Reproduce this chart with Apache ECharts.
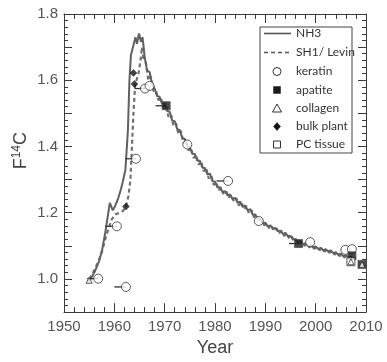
<!DOCTYPE html>
<html>
<head>
<meta charset="utf-8">
<script src="https://cdn.jsdelivr.net/npm/echarts@6/dist/echarts.min.js"></script>
<style>
html,body{margin:0;padding:0;background:#fff;}
#chart{width:387px;height:362px;}
</style>
</head>
<body>
<div id="chart"></div>
<script>
// ---- data ----
var xTicks = [1950, 1960, 1970, 1980, 1990, 2000, 2010];
var yTickLabels = ['1.0', '1.2', '1.4', '1.6', '1.8'];
var legendNames = ['NH3', 'SH1/ Levin', 'keratin', 'apatite', 'collagen', 'bulk plant', 'PC tissue'];

var nh3 = [
  [1954.8,0.990],[1955.5,1.005],[1956.2,1.025],[1957.0,1.055],[1957.6,1.090],[1958.2,1.140],
  [1958.7,1.190],[1959.1,1.230],[1959.7,1.207],[1960.2,1.222],[1960.8,1.245],[1961.3,1.270],
  [1961.7,1.295],[1962.2,1.330],[1962.7,1.450],[1963.0,1.600],[1963.3,1.676],[1963.8,1.706],
  [1964.2,1.730],[1964.5,1.710],[1964.9,1.741],[1965.3,1.716],[1965.6,1.730],[1965.9,1.690],
  [1966.0,1.672],[1966.5,1.630],[1967.0,1.625],[1967.5,1.588],[1968.0,1.575],[1968.5,1.552],
  [1969.0,1.550],[1969.5,1.528],[1970.0,1.530],[1970.5,1.507],[1971.0,1.505],[1971.5,1.478],
  [1972.0,1.476],[1972.5,1.452],[1973.0,1.450],[1973.5,1.425],[1974.0,1.423],[1974.5,1.400],
  [1975.0,1.398],[1975.5,1.378],[1976.0,1.377],[1976.5,1.357],[1977.0,1.357],[1977.5,1.336],
  [1978.0,1.335],[1978.5,1.315],[1979.0,1.318],[1979.5,1.295],[1980.0,1.294],[1980.5,1.276],
  [1981.0,1.277],[1981.5,1.262],[1982.0,1.265],[1982.5,1.252],[1983.0,1.255],[1983.5,1.241],
  [1984.0,1.245],[1984.5,1.230],[1985.0,1.233],[1985.5,1.218],[1986.0,1.222],[1986.5,1.207],
  [1987.0,1.211],[1987.5,1.194],[1988.0,1.195],[1988.5,1.180],[1989.0,1.181],[1989.5,1.168],
  [1990.0,1.170],[1990.5,1.159],[1991.0,1.162],[1991.5,1.151],[1992.0,1.154],[1992.5,1.144],
  [1993.0,1.146],[1993.5,1.136],[1994.0,1.139],[1994.5,1.129],[1995.0,1.130],[1995.5,1.119],
  [1996.0,1.121],[1996.5,1.111],[1997.0,1.114],[1997.5,1.105],[1998.0,1.108],[1998.5,1.100],
  [1999.0,1.103],[1999.5,1.095],[2000.0,1.098],[2000.5,1.091],[2001.0,1.094],[2001.5,1.087],
  [2002.0,1.090],[2002.5,1.083],[2003.0,1.086],[2003.5,1.078],[2004.0,1.081],[2004.5,1.073],
  [2005.0,1.076],[2005.5,1.069],[2006.0,1.072],[2006.5,1.065],[2007.0,1.068],[2007.5,1.062],
  [2008.0,1.064]
];

var sh1Levin = [
  [1955.0,1.000],[1955.8,1.020],[1956.6,1.045],[1957.4,1.075],[1958.2,1.120],[1958.8,1.150],
  [1959.5,1.180],[1960.2,1.195],[1961.0,1.200],[1961.7,1.205],[1962.3,1.220],[1962.8,1.250],
  [1963.2,1.300],[1963.5,1.400],[1963.8,1.500],[1964.1,1.580],[1964.4,1.600],[1964.8,1.620],
  [1965.2,1.660],[1965.5,1.700],[1965.8,1.660],[1966.0,1.670],
  [1966.25,1.655],[1966.75,1.600],[1967.25,1.612],[1967.75,1.568],[1968.25,1.570],[1968.75,1.540],
  [1969.25,1.548],[1969.75,1.515],[1970.25,1.522],[1970.75,1.490],[1971.25,1.497],[1971.75,1.463],
  [1972.25,1.470],[1972.75,1.437],[1973.25,1.447],[1973.75,1.410],[1974.25,1.420],[1974.75,1.388],
  [1975.25,1.395],[1975.75,1.365],[1976.25,1.374],[1976.75,1.345],[1977.25,1.355],[1977.75,1.325],
  [1978.25,1.335],[1978.75,1.303],[1979.25,1.312],[1979.75,1.284],[1980.25,1.292],[1980.75,1.268],
  [1981.25,1.276],[1981.75,1.255],[1982.25,1.264],[1982.75,1.246],[1983.25,1.254],[1983.75,1.234],
  [1984.25,1.244],[1984.75,1.222],[1985.25,1.231],[1985.75,1.210],[1986.25,1.220],[1986.75,1.198],
  [1987.25,1.208],[1987.75,1.186],[1988.25,1.192],[1988.75,1.172],[1989.25,1.180],[1989.75,1.162],
  [1990.25,1.168],[1990.75,1.153],[1991.25,1.160],[1991.75,1.145],[1992.25,1.152],[1992.75,1.138],
  [1993.25,1.145],[1993.75,1.130],[1994.25,1.137],[1994.75,1.122],[1995.25,1.128],[1995.75,1.113],
  [1996.25,1.119],[1996.75,1.106],[1997.25,1.112],[1997.75,1.100],[1998.25,1.106],[1998.75,1.095],
  [1999.25,1.101],[1999.75,1.091],[2000.25,1.097],[2000.75,1.087],[2001.25,1.092],[2001.75,1.083],
  [2002.25,1.088],[2002.75,1.079],[2003.25,1.084],[2003.75,1.074],[2004.25,1.079],[2004.75,1.069],
  [2005.25,1.074],[2005.75,1.065],[2006.25,1.070],[2006.75,1.061],[2007.25,1.066],[2007.75,1.058]
];

var keratin = [
  [1956.8,1.001],[1960.5,1.159],[1962.3,0.976],[1964.3,1.363],[1966.1,1.575],[1967.0,1.583],
  [1974.5,1.406],[1982.6,1.296],[1988.7,1.175],[1998.9,1.111],[2005.9,1.088],[2007.2,1.090]
];
var apatite = [[1970.3,1.523],[1996.6,1.107],[2007.2,1.070],[2009.2,1.044]];
var collagen = [[1955.0,0.996],[2007.0,1.052],[2009.2,1.044]];
var bulkPlant = [[1962.3,1.219],[1963.8,1.622],[1964.0,1.589]];
var pcTissue = [[2007.0,1.052]];

// horizontal range bars: [start year, end year, value]
var rangeBars = [
  [1954.6,1956.8,1.001],[1958.2,1960.5,1.159],[1960.0,1962.3,0.976],[1962.2,1964.3,1.363],
  [1964.0,1966.1,1.575],[1968.2,1970.3,1.523],[1980.3,1982.6,1.296],[1994.7,1996.6,1.107]
];

var chart = echarts.init(document.getElementById('chart'), null, {renderer: 'canvas'});
var axisColor = '#3a3a3a';
var labelFont = 'Liberation Sans, Arial, sans-serif';
var legendFont = 'Lato, Open Sans, sans-serif';

function xAxisCfg(pos, showLabel) {
  return {
    type: 'value', position: pos, min: 1950, max: 2010, interval: 10,
    axisLine: {show: true, lineStyle: {color: axisColor, width: 1}},
    axisTick: {show: true, inside: true, length: 9, lineStyle: {color: axisColor, width: 1}},
    minorTick: {show: true, splitNumber: 5, length: 5, lineStyle: {color: axisColor, width: 1}},
    splitLine: {show: false},
    axisLabel: {show: showLabel, color: '#555', fontSize: 15, fontFamily: labelFont, margin: 7,
      formatter: function (v) { return String(Math.round(v)); }},
    name: showLabel ? 'Year' : '', nameLocation: 'middle', nameGap: 25,
    nameTextStyle: {color: '#444', fontSize: 18, fontFamily: labelFont}
  };
}
function yAxisCfg(pos, showLabel) {
  return {
    type: 'value', position: pos, min: 0.9, max: 1.8, interval: 0.1,
    axisLine: {show: true, lineStyle: {color: axisColor, width: 1}},
    axisTick: {show: true, inside: true, length: 8, lineStyle: {color: axisColor, width: 1}},
    minorTick: {show: true, splitNumber: 5, length: 4, lineStyle: {color: axisColor, width: 1}},
    splitLine: {show: false},
    axisLabel: {show: showLabel, color: '#555', fontSize: 15, fontFamily: labelFont, margin: 6,
      formatter: function (v) {
        var s = v.toFixed(1);
        return yTickLabels.indexOf(s) >= 0 ? s : '';
      }}
  };
}

var markerBorder = '#333';

// ---- hand-built legend box (matching the reference layout) ----
var LX = 260, LY = 27, LW = 92, LH = 126;
var rowY = [33.5, 52.5, 71.5, 90, 108.5, 126.5, 144.5];
var symX = 277;
var legendGraphics = [
  {type: 'rect', shape: {x: LX, y: LY, width: LW, height: LH}, z: 20,
   style: {fill: '#fff', stroke: '#444', lineWidth: 1}},
  {type: 'line', shape: {x1: 264, y1: rowY[0], x2: 291, y2: rowY[0]}, z: 21,
   style: {stroke: '#555', lineWidth: 1.6}},
  {type: 'line', shape: {x1: 264, y1: rowY[1], x2: 291, y2: rowY[1]}, z: 21,
   style: {stroke: '#555', lineWidth: 1.6, lineDash: [4, 3]}},
  {type: 'circle', shape: {cx: symX, cy: rowY[2], r: 4}, z: 21,
   style: {fill: '#fff', stroke: '#333', lineWidth: 1}},
  {type: 'rect', shape: {x: symX - 3.5, y: rowY[3] - 3.5, width: 7, height: 7}, z: 21,
   style: {fill: '#1a1a1a', stroke: '#1a1a1a', lineWidth: 0.5}},
  {type: 'polygon', shape: {points: [[symX, rowY[4] - 4.5], [symX + 4.5, rowY[4] + 3.5], [symX - 4.5, rowY[4] + 3.5]]}, z: 21,
   style: {fill: '#fff', stroke: '#333', lineWidth: 1}},
  {type: 'polygon', shape: {points: [[symX, rowY[5] - 4], [symX + 3.5, rowY[5]], [symX, rowY[5] + 4], [symX - 3.5, rowY[5]]]}, z: 21,
   style: {fill: '#111', stroke: '#111', lineWidth: 0.5}},
  {type: 'rect', shape: {x: symX - 3.5, y: rowY[6] - 3.5, width: 7, height: 7}, z: 21,
   style: {fill: '#fff', stroke: '#333', lineWidth: 1}}
];
legendNames.forEach(function (n, i) {
  legendGraphics.push({
    type: 'text', x: 296, y: rowY[i], z: 21,
    style: {text: n, fill: '#333', font: '12px ' + legendFont, textAlign: 'left', textVerticalAlign: 'middle'}
  });
});
legendGraphics.push({
  type: 'text', left: 11, top: 132, rotation: Math.PI / 2,
  style: {
    text: '{a|F}{s|14}{a|C}',
    rich: {
      a: {fontSize: 18, fontFamily: labelFont, fill: '#444', color: '#444'},
      s: {fontSize: 12, fontFamily: labelFont, fill: '#444', color: '#444', padding: [0, 0, 8, 0]}
    }
  }
});

chart.setOption({
  animation: false,
  backgroundColor: '#fff',
  grid: {left: 64, top: 14, width: 302, height: 304, containLabel: false},
  xAxis: [xAxisCfg('bottom', true), xAxisCfg('top', false)],
  yAxis: [yAxisCfg('left', true), yAxisCfg('right', false)],
  graphic: legendGraphics,
  series: [
    {
      name: 'SH1/ Levin', type: 'line', data: sh1Levin, symbol: 'none', z: 2,
      lineStyle: {color: '#707070', width: 2.2, type: [4, 3]}
    },
    {
      name: 'NH3', type: 'line', data: nh3, symbol: 'none', z: 3,
      lineStyle: {color: '#606060', width: 2}
    },
    {
      type: 'custom', z: 4, data: rangeBars, encode: {x: [0, 1], y: 2}, silent: true,
      renderItem: function (params, api) {
        var p0 = api.coord([api.value(0), api.value(2)]);
        var p1 = api.coord([api.value(1), api.value(2)]);
        return {type: 'line', shape: {x1: p0[0], y1: p0[1], x2: p1[0], y2: p1[1]},
          style: {stroke: '#333', lineWidth: 1.3}};
      }
    },
    {
      name: 'keratin', type: 'scatter', data: keratin, symbol: 'circle', symbolSize: 9, z: 5,
      itemStyle: {color: '#fff', borderColor: markerBorder, borderWidth: 1}
    },
    {
      name: 'apatite', type: 'scatter', data: apatite, symbol: 'rect', symbolSize: 8, z: 6,
      itemStyle: {color: '#1a1a1a', borderColor: '#555', borderWidth: 1}
    },
    {
      name: 'PC tissue', type: 'scatter', data: pcTissue, symbol: 'rect', symbolSize: 8, z: 6,
      itemStyle: {color: '#fff', borderColor: markerBorder, borderWidth: 1}
    },
    {
      name: 'collagen', type: 'scatter', data: collagen, symbol: 'triangle', symbolSize: 6, z: 7,
      itemStyle: {color: '#fff', borderColor: markerBorder, borderWidth: 1}
    },
    {
      name: 'bulk plant', type: 'scatter', data: bulkPlant, symbol: 'diamond', symbolSize: 7, z: 7,
      itemStyle: {color: '#111', borderColor: '#111', borderWidth: 0.5}
    }
  ]
});
</script>
</body>
</html>
